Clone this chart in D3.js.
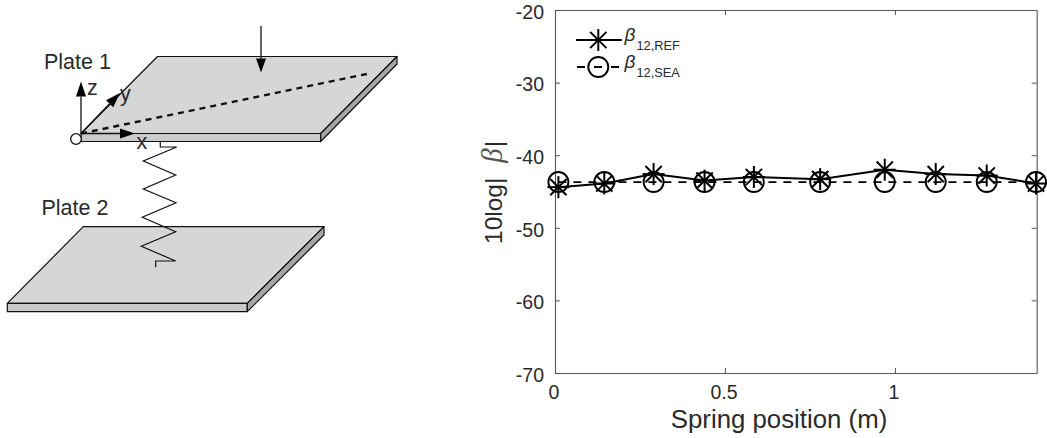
<!DOCTYPE html>
<html>
<head>
<meta charset="utf-8">
<script src="https://d3js.org/d3.v7.min.js"></script>
<style>
  html, body { margin: 0; background: #fff; }
  text { font-family: "Liberation Sans", Arial, sans-serif; fill: #2a2a2a; }
</style>
</head>
<body>
<div id="figure"></div>
<script>
// chart values
const springPos = [0.01, 0.145, 0.29, 0.44, 0.585, 0.78, 0.97, 1.12, 1.27, 1.415];
const betaRef = [-44.4, -43.9, -42.6, -43.5, -43.0, -43.3, -42.0, -42.6, -42.8, -43.9];
const betaSea = [-43.7, -43.7, -43.7, -43.7, -43.7, -43.7, -43.7, -43.7, -43.7, -43.7];
const xTicks = [0, 0.5, 1];
const yTicks = [-70, -60, -50, -40, -30, -20];

// schematic outlines (page pixels)
const plate1Top = [[81, 133.5], [157.5, 56.5], [397, 56.5], [320.7, 133.5]];
const plate1Front = [[81, 133.5], [320.7, 133.5], [320.7, 141.5], [81, 141.5]];
const plate1Side = [[320.7, 133.5], [397, 56.5], [397, 64], [320.7, 141.5]];
const plate2Top = [[7.3, 303.3], [83.3, 226.7], [324, 226.7], [247.3, 303.3]];
const plate2Front = [[7.3, 303.3], [247.3, 303.3], [247.3, 311.7], [7.3, 311.7]];
const plate2Side = [[247.3, 303.3], [324, 226.7], [324, 235], [247.3, 311.7]];
const springPath = [[160.3, 141.7], [160.3, 147], [176.7, 147], [143.3, 161], [175.7, 175], [143.3, 189],
  [176, 202.7], [142.3, 217.3], [175.7, 231.7], [141.3, 246.3], [175.7, 261], [155.7, 261], [155.7, 267.3]];

const svg = d3.select("#figure")
  .append("svg")
  .attr("width", 1047)
  .attr("height", 438)
  .style("display", "block");

// ---- left: plate and spring sketch ----
const sketch = svg.append("g");
const outline = d3.line();

function face(pts, fill) {
  sketch.append("path")
    .attr("d", outline(pts) + "Z")
    .attr("fill", fill)
    .attr("stroke", "#111")
    .attr("stroke-width", 1.2)
    .attr("stroke-linejoin", "round");
}

function arrow(x1, y1, x2, y2, headLen, headHalf) {
  const a = Math.atan2(y2 - y1, x2 - x1);
  const bx = x2 - headLen * Math.cos(a), by = y2 - headLen * Math.sin(a);
  const nx = -Math.sin(a) * headHalf, ny = Math.cos(a) * headHalf;
  sketch.append("line")
    .attr("x1", x1).attr("y1", y1).attr("x2", bx).attr("y2", by)
    .attr("stroke", "#111").attr("stroke-width", 1.3);
  sketch.append("path")
    .attr("d", outline([[x2, y2], [bx + nx, by + ny], [bx - nx, by - ny]]) + "Z")
    .attr("fill", "#000");
}

function label(txt, x, y, size) {
  sketch.append("text").attr("x", x).attr("y", y).attr("font-size", size).text(txt);
}

face(plate2Top, "#d6d6d6");
face(plate2Front, "#cacaca");
face(plate2Side, "#a6a6a6");
face(plate1Top, "#d6d6d6");
face(plate1Front, "#cacaca");
face(plate1Side, "#a6a6a6");

sketch.append("path")
  .attr("d", outline(springPath))
  .attr("fill", "none")
  .attr("stroke", "#111")
  .attr("stroke-width", 1.2);

sketch.append("line")
  .attr("x1", 81).attr("y1", 133.5).attr("x2", 370).attr("y2", 73.3)
  .attr("stroke", "#111")
  .attr("stroke-width", 2.4)
  .attr("stroke-dasharray", "6 5");

arrow(261, 26, 261, 72.5, 14, 5);
arrow(81, 133.5, 81, 81.5, 15, 5);
arrow(81, 133.5, 120, 93, 15, 5);
arrow(81, 133.5, 135, 133.5, 15, 5);

sketch.append("circle")
  .attr("cx", 76).attr("cy", 139).attr("r", 5.3)
  .attr("fill", "#fff").attr("stroke", "#111").attr("stroke-width", 1.3);

label("Plate 1", 44, 69, 21.5);
label("Plate 2", 41.5, 215, 21.5);
label("z", 87, 95, 21.5);
label("y", 120, 101, 21.5);
label("x", 136.5, 149, 21.5);

// ---- right: transmission plot ----
const x = d3.scaleLinear().domain([0, 1.417]).range([555, 1036.7]);
const y = d3.scaleLinear().domain([-70, -20]).range([373, 10]);
const axisColor = "#555";

const plot = svg.append("g");

function styleAxis(g) {
  g.selectAll("path").attr("stroke", axisColor).attr("stroke-width", 1.1);
  g.selectAll("line").attr("stroke", axisColor).attr("stroke-width", 1);
  g.selectAll("text")
    .attr("font-family", '"Liberation Sans", Arial, sans-serif')
    .attr("font-size", 19.5)
    .attr("fill", "#2a2a2a");
}

plot.append("g")
  .attr("transform", "translate(0,373)")
  .call(d3.axisBottom(x).tickValues(xTicks).tickSizeInner(-5).tickSizeOuter(0).tickPadding(12).tickFormat(d3.format("")))
  .call(styleAxis)
  .call(g => g.selectAll("text").attr("dx", -1.5));
plot.append("g")
  .attr("transform", "translate(0,10)")
  .call(d3.axisTop(x).tickValues(xTicks).tickSizeInner(-5).tickSizeOuter(0).tickFormat(""))
  .call(styleAxis);
plot.append("g")
  .attr("transform", "translate(555,0)")
  .call(d3.axisLeft(y).tickValues(yTicks).tickSizeInner(-5).tickSizeOuter(0).tickPadding(11).tickFormat(d => String(d)))
  .call(styleAxis)
  .call(g => g.selectAll("text").attr("dy", "0.42em"));
plot.append("g")
  .attr("transform", "translate(1036.7,0)")
  .call(d3.axisRight(y).tickValues(yTicks).tickSizeInner(-5).tickSizeOuter(0).tickFormat(""))
  .call(styleAxis);

plot.append("text")
  .attr("x", 779).attr("y", 428)
  .attr("text-anchor", "middle")
  .attr("font-size", 25.8)
  .text("Spring position (m)");

const yTitle = plot.append("text")
  .attr("transform", "translate(502,244) rotate(-90)")
  .attr("font-size", 24.5);
yTitle.append("tspan").text("10log|");
yTitle.append("tspan").attr("dx", 15).attr("font-family", '"Liberation Serif", serif').attr("font-style", "italic").attr("font-size", 29).attr("fill", "#555").text("\u03b2");
yTitle.append("tspan").attr("dx", 1).text("|");

const lineGen = d3.line().x(d => x(d[0])).y(d => y(d[1]));

function starMark(g, cx, cy, r) {
  const d = r * 0.74;
  [[0, -r, 0, r], [-r, 0, r, 0], [-d, -d, d, d], [-d, d, d, -d]].forEach(s => {
    g.append("line")
      .attr("x1", cx + s[0]).attr("y1", cy + s[1])
      .attr("x2", cx + s[2]).attr("y2", cy + s[3])
      .attr("stroke", "#000").attr("stroke-width", 2);
  });
}

function ringMark(g, cx, cy, r) {
  g.append("circle")
    .attr("cx", cx).attr("cy", cy).attr("r", r)
    .attr("fill", "none").attr("stroke", "#000").attr("stroke-width", 1.9);
}

plot.append("path")
  .attr("d", lineGen(d3.zip(springPos, betaSea)))
  .attr("fill", "none").attr("stroke", "#000").attr("stroke-width", 1.7)
  .attr("stroke-dasharray", "8 7");
springPos.forEach((p, i) => ringMark(plot, x(p), y(betaSea[i]), 10));

plot.append("path")
  .attr("d", lineGen(d3.zip(springPos, betaRef)))
  .attr("fill", "none").attr("stroke", "#000").attr("stroke-width", 2);
springPos.forEach((p, i) => starMark(plot, x(p), y(betaRef[i]), 11));

// legend
const legend = plot.append("g");
legend.append("line")
  .attr("x1", 576).attr("y1", 40).attr("x2", 621.7).attr("y2", 40)
  .attr("stroke", "#000").attr("stroke-width", 1.9);
starMark(legend, 598.3, 40, 11);
legend.append("line")
  .attr("x1", 577).attr("y1", 67).attr("x2", 621.5).attr("y2", 67)
  .attr("stroke", "#000").attr("stroke-width", 1.9)
  .attr("stroke-dasharray", "8 9");
ringMark(legend, 598.3, 67, 10);

[["12,REF", 50], ["12,SEA", 77]].forEach(([sub, base]) => {
  legend.append("text")
    .attr("x", 624.5).attr("y", base - 9)
    .attr("font-family", '"Liberation Serif", serif')
    .attr("font-style", "italic")
    .attr("font-size", 19)
    .attr("fill", "#555")
    .text("\u03b2");
  legend.append("text")
    .attr("x", 636.5).attr("y", base)
    .attr("font-size", 12.8)
    .text(sub);
});
</script>
</body>
</html>
